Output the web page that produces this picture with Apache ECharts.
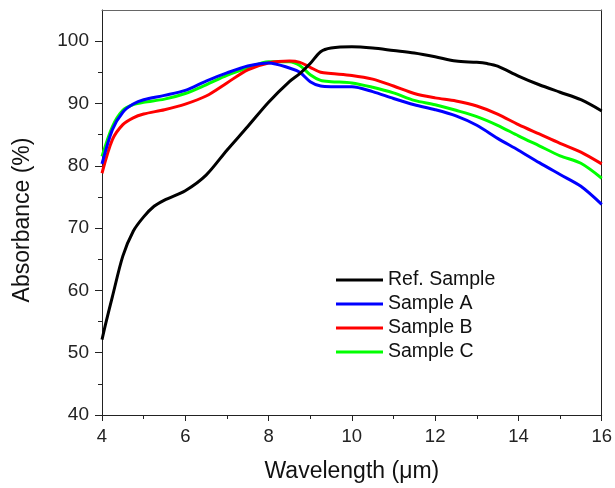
<!DOCTYPE html>
<html>
<head>
<meta charset="utf-8">
<script src="https://cdn.jsdelivr.net/npm/echarts@6/dist/echarts.min.js"></script>
<style>
html,body{margin:0;padding:0;background:#fff;}
#chart{width:615px;height:488px;}
</style>
</head>
<body>
<div id="chart"></div>
<script>
// Wavelength grid (µm)
var refX = [4, 4.1, 4.25, 4.5, 4.75, 5, 5.25, 5.5, 6, 6.5, 7, 7.5, 8, 8.5, 8.75, 9, 9.25, 9.5, 10, 10.5, 11, 11.5, 12, 12.5, 13, 13.25, 13.5, 14, 14.5, 15, 15.5, 16];
var refY = [52.1, 55, 59, 65.5, 69.5, 71.8, 73.5, 74.5, 76, 78.5, 82.5, 86.3, 90.2, 93.5, 94.8, 96.4, 98.3, 98.9, 99.1, 98.9, 98.5, 98.1, 97.5, 96.8, 96.6, 96.4, 96.0, 94.4, 93.0, 91.8, 90.6, 88.8];

var sampleX = [4, 4.25, 4.5, 4.75, 5, 5.5, 6, 6.5, 7, 7.5, 8, 8.5, 8.75, 9, 9.25, 9.5, 10, 10.5, 11, 11.5, 12, 12.5, 13, 13.5, 14, 14.5, 15, 15.5, 16];
var sampleA = [80.3, 85.8, 88.6, 89.9, 90.6, 91.3, 92.1, 93.6, 94.9, 96.0, 96.5, 95.7, 95.0, 93.5, 92.8, 92.7, 92.7, 91.9, 90.8, 89.8, 89.0, 88.0, 86.5, 84.4, 82.5, 80.5, 78.6, 76.7, 73.8];
var sampleB = [78.8, 84.2, 86.6, 87.7, 88.3, 89.0, 89.9, 91.2, 93.3, 95.4, 96.5, 96.8, 96.6, 95.8, 95.0, 94.8, 94.5, 93.9, 92.8, 91.6, 90.9, 90.4, 89.6, 88.3, 86.6, 85.1, 83.6, 82.2, 80.3];
var sampleC = [81.5, 86.3, 88.9, 89.8, 90.2, 90.7, 91.6, 93.0, 94.5, 95.7, 96.7, 96.7, 96.1, 94.6, 93.7, 93.5, 93.3, 92.6, 91.7, 90.5, 89.8, 88.9, 87.9, 86.5, 84.8, 83.2, 81.6, 80.4, 78.0];

var seriesNames = ['Ref. Sample', 'Sample A', 'Sample B', 'Sample C'];
var seriesColors = ['#000000', '#0000ff', '#ff0000', '#00ff00'];
var yMajor = [40, 50, 60, 70, 80, 90, 100];
var yMinor = [45, 55, 65, 75, 85, 95];
var xTitle = 'Wavelength (\u03bcm)';
var yTitle = 'Absorbance (%)';

function pairs(xs, ys) { return xs.map(function (x, i) { return [x, ys[i]]; }); }
var allData = [pairs(refX, refY), pairs(sampleX, sampleA), pairs(sampleX, sampleB), pairs(sampleX, sampleC)];

var font = 'Liberation Sans, Arial, sans-serif';
var chart = echarts.init(document.getElementById('chart'), null, {renderer: 'canvas'});

var option = {
  animation: false,
  backgroundColor: '#ffffff',
  grid: {left: 102, right: 9, top: 10, bottom: 68, containLabel: false},
  legend: {
    orient: 'vertical', left: 336, top: 270, padding: 0,
    itemWidth: 47, itemHeight: 3, itemGap: 4, icon: 'rect',
    textStyle: {fontFamily: font, fontSize: 19.5, color: '#111', lineHeight: 20},
    data: seriesNames
  },
  graphic: [{
    type: 'text', x: 23, y: 220, rotation: Math.PI / 2,
    style: {text: yTitle, fontFamily: font, fontSize: 23, fill: '#111',
            textAlign: 'center', textVerticalAlign: 'middle', verticalAlign: 'middle', align: 'center'}
  }],
  xAxis: [{
    type: 'value', min: 4, max: 16, interval: 2, position: 'bottom',
    name: xTitle, nameLocation: 'middle', nameGap: 45,
    nameTextStyle: {fontFamily: font, fontSize: 23, color: '#111'},
    axisLine: {show: true, lineStyle: {color: '#222', width: 1}},
    axisTick: {show: true, inside: false, length: 6, lineStyle: {color: '#222'}},
    minorTick: {show: true, splitNumber: 2, length: 4, lineStyle: {color: '#222'}},
    axisLabel: {fontFamily: font, fontSize: 18.5, color: '#222', margin: 12},
    splitLine: {show: false}
  }, {
    type: 'value', min: 4, max: 16, position: 'top',
    axisLine: {show: true, lineStyle: {color: '#666', width: 1}},
    axisTick: {show: false}, axisLabel: {show: false}, splitLine: {show: false}
  }],
  yAxis: [{
    type: 'value', min: 40, max: 105, position: 'left',
    axisLine: {show: true, lineStyle: {color: '#222', width: 1}},
    axisTick: {show: true, inside: false, length: 7, customValues: yMajor, lineStyle: {color: '#222'}},
    axisLabel: {fontFamily: font, fontSize: 19, color: '#222', margin: 13, customValues: yMajor},
    splitLine: {show: false}
  }, {
    type: 'value', min: 40, max: 105, position: 'left',
    axisLine: {show: false},
    axisTick: {show: true, inside: false, length: 4, customValues: yMinor, lineStyle: {color: '#222'}},
    axisLabel: {show: false}, splitLine: {show: false}
  }, {
    type: 'value', min: 40, max: 105, position: 'right',
    axisLine: {show: true, lineStyle: {color: '#222', width: 1}},
    axisTick: {show: false}, axisLabel: {show: false}, splitLine: {show: false}
  }],
  series: seriesNames.map(function (n, i) {
    return {
      name: n, type: 'line', data: allData[i], smooth: 0.3,
      showSymbol: false, symbol: 'none', xAxisIndex: 0, yAxisIndex: 0,
      lineStyle: {color: seriesColors[i], width: 3},
      itemStyle: {color: seriesColors[i]},
      z: 10 - i
    };
  })
};
chart.setOption(option);
</script>
</body>
</html>
